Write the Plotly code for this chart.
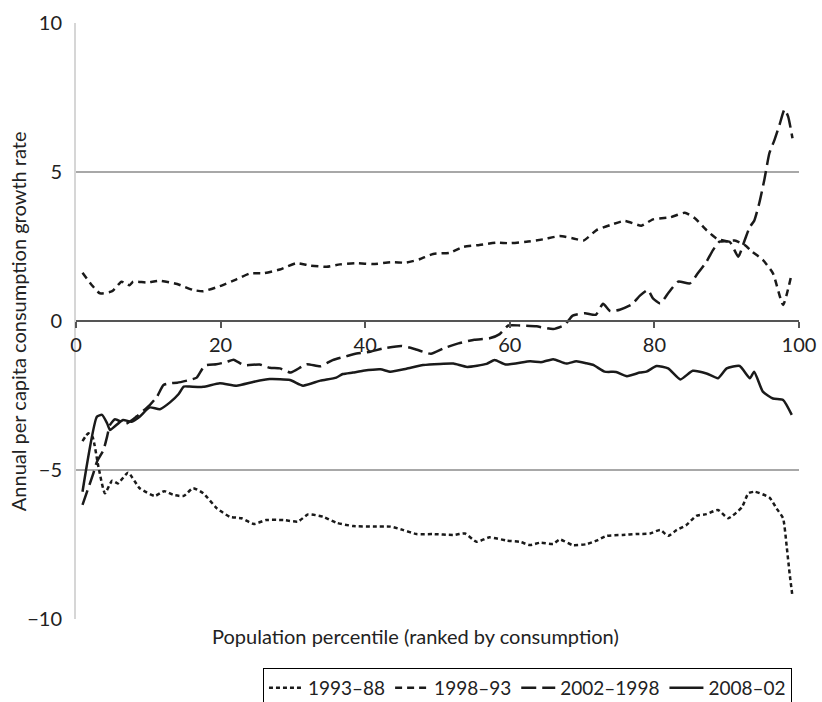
import plotly.graph_objects as go

# Growth incidence curves: annual per capita consumption growth by percentile
PCT_9388 = [0.9, 1.7, 2.3, 3.1, 4.0, 5.0, 5.8, 7.2, 8.8, 10.9,
            12.2, 13.5, 14.9, 16.2, 17.6, 19.5, 21.3, 22.9, 24.6, 26.3,
            28.7, 30.7, 32.1, 34.2, 36.0, 38.3, 41.1, 43.5, 45.2, 47.1,
            49.4, 52.2, 53.8, 55.4, 57.2, 59.6, 61.4, 62.8, 64.2, 66.0,
            66.9, 68.7, 70.6, 72.0, 73.4, 75.6, 77.5, 79.4, 80.8, 81.9,
            83.1, 84.4, 85.8, 87.2, 88.8, 90.2, 92.1, 93.0, 93.9, 95.9,
            96.9, 97.8, 98.3, 98.7, 99.1]
GR_9388 = [-4.03, -3.77, -3.90, -4.89, -5.78, -5.36, -5.45, -5.09, -5.61, -5.87,
           -5.71, -5.84, -5.87, -5.61, -5.78, -6.29, -6.57, -6.62, -6.81, -6.68,
           -6.68, -6.73, -6.49, -6.57, -6.77, -6.88, -6.90, -6.90, -7.01, -7.15,
           -7.15, -7.18, -7.13, -7.41, -7.26, -7.37, -7.41, -7.52, -7.44, -7.48,
           -7.33, -7.52, -7.49, -7.37, -7.21, -7.18, -7.15, -7.13, -7.01, -7.21,
           -7.01, -6.85, -6.54, -6.48, -6.34, -6.62, -6.25, -5.78, -5.73, -5.92,
           -6.29, -6.62, -7.57, -8.47, -9.25]

PCT_9893 = [0.9, 2.2, 3.3, 5.0, 6.3, 7.4, 7.9, 9.8, 11.6, 14.0,
            16.2, 17.6, 19.9, 22.2, 24.1, 25.9, 28.2, 30.5, 32.4, 34.7,
            36.5, 38.8, 41.1, 43.5, 45.7, 47.5, 49.4, 51.7, 53.6, 55.8,
            58.2, 60.0, 62.3, 64.6, 66.9, 68.8, 70.2, 72.0, 73.9, 75.9,
            78.2, 79.8, 82.2, 84.2, 85.6, 87.2, 88.6, 90.0, 91.1, 92.5,
            93.5, 95.0, 96.4, 97.8, 99.0]
GR_9893 = [1.62, 1.20, 0.93, 1.00, 1.32, 1.20, 1.32, 1.29, 1.35, 1.24,
           1.04, 1.00, 1.17, 1.40, 1.60, 1.60, 1.73, 1.94, 1.86, 1.82,
           1.90, 1.94, 1.91, 1.97, 1.96, 2.07, 2.25, 2.29, 2.49, 2.55,
           2.63, 2.61, 2.66, 2.74, 2.85, 2.77, 2.70, 3.05, 3.22, 3.36,
           3.20, 3.41, 3.48, 3.63, 3.45, 3.05, 2.77, 2.68, 2.70, 2.55,
           2.33, 2.05, 1.60, 0.54, 1.60]

PCT_0298 = [0.9, 2.4, 2.9, 3.8, 4.3, 4.7, 5.4, 6.9, 8.4, 10.2,
            11.2, 12.1, 13.0, 14.0, 15.7, 16.7, 17.8, 19.4, 20.8, 21.8,
            23.2, 25.4, 26.8, 28.2, 29.7, 31.9, 33.8, 35.5, 37.4, 38.8,
            40.7, 42.5, 45.0, 46.6, 49.1, 50.8, 52.9, 55.1, 57.2, 58.6,
            59.8, 61.4, 63.7, 66.0, 67.6, 68.7, 70.4, 71.9, 72.9, 73.9,
            75.2, 76.9, 78.0, 79.1, 79.8, 80.8, 81.9, 83.3, 84.9, 86.0,
            87.2, 88.1, 89.0, 90.4, 91.6, 92.5, 93.2, 93.8, 94.5, 95.2,
            95.9, 96.6, 97.3, 98.0, 98.5, 99.1]
GR_0298 = [-6.17, -5.11, -4.72, -4.33, -3.88, -3.49, -3.30, -3.45, -3.20, -2.82,
           -2.54, -2.15, -2.09, -2.07, -1.98, -1.90, -1.50, -1.45, -1.38, -1.30,
           -1.48, -1.46, -1.57, -1.59, -1.73, -1.45, -1.52, -1.31, -1.18, -1.09,
           -1.03, -0.92, -0.84, -0.92, -1.10, -0.92, -0.75, -0.63, -0.58, -0.44,
           -0.15, -0.15, -0.18, -0.27, -0.13, 0.18, 0.26, 0.21, 0.58, 0.33,
           0.38, 0.56, 0.85, 1.04, 0.76, 0.59, 0.93, 1.32, 1.26, 1.60,
           1.99, 2.38, 2.66, 2.66, 2.16, 2.72, 3.16, 3.36, 3.95, 4.73,
           5.63, 6.07, 6.58, 7.10, 6.86, 6.13]

PCT_0802 = [0.9, 2.9, 3.6, 4.3, 4.7, 5.3, 6.5, 7.7, 8.8, 10.2,
            11.6, 13.0, 14.2, 14.9, 15.7, 17.6, 19.9, 22.2, 24.6, 26.8,
            29.6, 31.4, 33.8, 36.0, 36.9, 38.3, 39.7, 42.1, 43.5, 45.7,
            48.0, 50.3, 52.2, 54.1, 56.8, 57.9, 59.4, 61.0, 62.8, 64.4,
            66.0, 67.8, 69.2, 70.6, 71.6, 73.1, 74.7, 76.2, 78.0, 78.9,
            80.3, 81.9, 83.6, 85.3, 87.2, 88.8, 90.0, 91.8, 93.2, 93.8,
            95.0, 96.4, 97.8, 99.0]
GR_0802 = [-5.73, -3.21, -3.15, -3.43, -3.66, -3.55, -3.32, -3.38, -3.21, -2.90,
           -2.96, -2.73, -2.45, -2.20, -2.20, -2.21, -2.09, -2.17, -2.04, -1.95,
           -1.98, -2.17, -2.00, -1.90, -1.78, -1.73, -1.67, -1.62, -1.70, -1.60,
           -1.48, -1.44, -1.43, -1.54, -1.44, -1.31, -1.46, -1.42, -1.35, -1.38,
           -1.28, -1.43, -1.35, -1.42, -1.48, -1.70, -1.71, -1.85, -1.73, -1.70,
           -1.51, -1.59, -1.96, -1.67, -1.76, -1.92, -1.59, -1.51, -1.92, -1.70,
           -2.37, -2.60, -2.65, -3.15]

SERIES = [
    ("1993–88", PCT_9388, GR_9388, "4px,3px"),
    ("1998–93", PCT_9893, GR_9893, "7px,5px"),
    ("2002–1998", PCT_0298, GR_0298, "15px,6px"),
    ("2008–02", PCT_0802, GR_0802, "solid"),
]

X_TICKS = [0, 20, 40, 60, 80, 100]
Y_TICKS = [-10, -5, 0, 5, 10]

FONT = "Lato"
INK = "#1a1a1a"
FS = 20

fig = go.Figure()
for name, xs, ys, dash in SERIES:
    fig.add_trace(go.Scatter(
        x=xs, y=ys, name=name, mode="lines",
        line=dict(color=INK, width=2.5, dash=dash, shape="spline", smoothing=0.5),
    ))

fig.update_layout(
    width=822, height=702,
    margin=dict(l=76, r=23, t=23, b=83, autoexpand=False),
    paper_bgcolor="white", plot_bgcolor="white",
    font=dict(family=FONT, size=FS, color="#222"),
    showlegend=True,
    legend=dict(
        orientation="h", x=0.2586, y=-0.0822, xanchor="left", yanchor="top",
        bordercolor="#000", borderwidth=1, font=dict(size=19, color="#222"),
        traceorder="normal", itemwidth=34,
    ),
    xaxis=dict(
        range=[0, 100], tickvals=X_TICKS, anchor="free", position=0.5,
        showline=True, linecolor="#555", linewidth=1.5,
        ticks="outside", ticklen=6, tickwidth=1.5, tickcolor="#555",
        showgrid=False, zeroline=False, tickfont=dict(size=FS),
    ),
    xaxis2=dict(
        range=[0, 100], tickvals=X_TICKS, anchor="free", position=0.5,
        overlaying="x", side="top", showline=False,
        ticks="outside", ticklen=6, tickwidth=1.5, tickcolor="#555",
        showticklabels=False, showgrid=False, zeroline=False,
    ),
    yaxis=dict(
        range=[-10, 10], tickvals=Y_TICKS, showgrid=True,
        gridcolor="#a8a8a8", gridwidth=1.5, zeroline=False,
        showline=True, linecolor="#d6d6d6", linewidth=2,
        ticks="", ticklabelstandoff=8, tickfont=dict(size=FS),
    ),
    annotations=[
        dict(text="Population percentile (ranked by consumption)",
             xref="paper", yref="paper", x=0.469, y=-0.0285,
             xanchor="center", yanchor="middle", showarrow=False,
             font=dict(size=FS, color="#222")),
        dict(text="Annual per capita consumption growth rate",
             xref="paper", yref="paper", x=-0.080, y=0.5, textangle=-90,
             xanchor="center", yanchor="middle", showarrow=False,
             font=dict(size=FS, color="#222")),
    ],
)

fig.write_html("out.html")
